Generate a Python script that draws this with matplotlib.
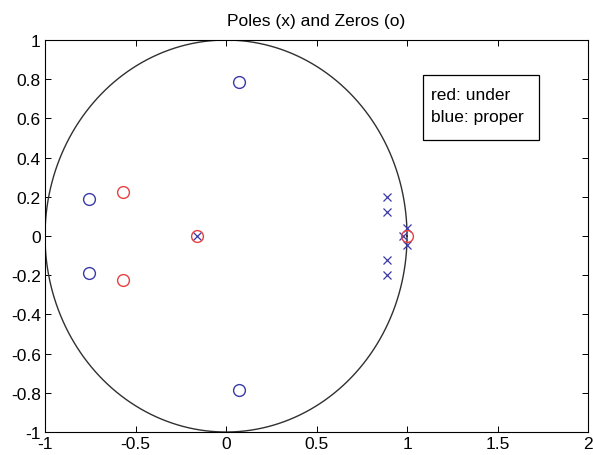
import numpy as np
import matplotlib.pyplot as plt
from matplotlib.patches import Rectangle

plt.rcParams['font.family'] = ['Liberation Sans', 'DejaVu Sans']

# zeros (o) and poles (x) for the two designs
under_zeros_re = [-0.57, -0.57, -0.16, 1.0]
under_zeros_im = [0.226, -0.226, 0.0, 0.0]

proper_zeros_re = [0.07, 0.07, -0.755, -0.755]
proper_zeros_im = [0.788, -0.788, 0.191, -0.191]

proper_poles_re = [0.891, 0.891, 0.891, 0.891, 0.976, 0.998, 0.998, -0.16]
proper_poles_im = [0.197, 0.124, -0.122, -0.199, 0.0, 0.039, -0.044, 0.0]

note_lines = ['red: under', 'blue: proper']

fig = plt.figure(figsize=(5.93, 4.56), dpi=100)
ax = fig.add_axes([0.0759, 0.0504, 0.9157, 0.8596])

t = np.linspace(0, 2 * np.pi, 400)
ax.plot(np.cos(t), np.sin(t), color='#303030', lw=1.0)

ax.plot(proper_poles_re, proper_poles_im, 'x', color='#3a3aa8', ms=6, mew=0.9)
ax.plot(proper_zeros_re, proper_zeros_im, 'o', mfc='none', mec='#3a3aa8', ms=8.5, mew=1.0)
ax.plot(under_zeros_re, under_zeros_im, 'o', mfc='none', mec='#e84040', ms=8.5, mew=1.0)

# annotation box
ax.add_patch(Rectangle((1.087, 0.491), 0.642, 0.33, fc='white', ec='black', lw=0.9, zorder=3))
ax.text(1.133, 0.724, note_lines[0], fontsize=12.5, va='center', ha='left', zorder=4)
ax.text(1.133, 0.612, note_lines[1], fontsize=12.5, va='center', ha='left', zorder=4)

ax.set_xlim(-1, 2)
ax.set_ylim(-1, 1)
ax.set_xticks([-1, -0.5, 0, 0.5, 1, 1.5, 2])
ax.set_xticklabels(['-1', '-0.5', '0', '0.5', '1', '1.5', '2'])
ax.set_yticks(np.arange(-1, 1.01, 0.2))
ax.set_yticklabels(['-1', '-0.8', '-0.6', '-0.4', '-0.2', '0', '0.2', '0.4', '0.6', '0.8', '1'])
ax.tick_params(direction='in', top=True, right=True, labelsize=12.5, length=4, width=0.7, pad=3)
for s in ax.spines.values():
    s.set_linewidth(0.8)
ax.set_title('Poles (x) and Zeros (o)', fontsize=12.5, pad=11)

fig.savefig('out.png', dpi=100)
